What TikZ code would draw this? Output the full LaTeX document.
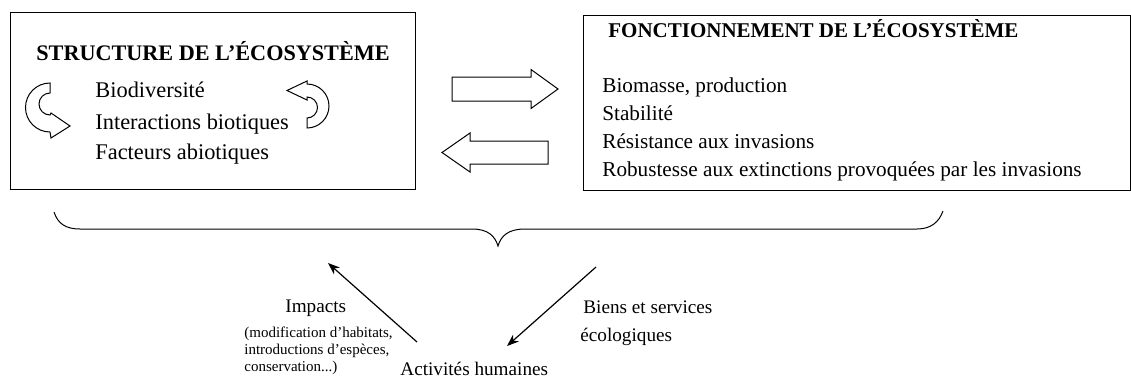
\documentclass[tikz,border=0pt]{standalone}
\usepackage{fontspec}
\setmainfont{Liberation Serif}
\usetikzlibrary{arrows.meta}

\tikzset{
  ecobox/.style={draw, line width=0.6pt, inner sep=0pt, anchor=north west},
  item/.style={anchor=base west, inner sep=0pt},
  blockarrow/.style={draw, line width=0.5pt, line join=miter},
  thinarrow/.style={-{Stealth[length=6pt,width=4.5pt]}, line width=0.6pt},
}

\begin{document}
\begin{tikzpicture}[x=0.5pt, y=0.5pt]
    \useasboundingbox (0,0) rectangle (1131,-381);
    % the two boxes
    \node[ecobox, minimum width=202.75pt, minimum height=88.5pt] (structure) at (9.5,-12) {};
    \node[ecobox, minimum width=273.25pt, minimum height=87.5pt] (function) at (583,-15) {};

    % structure of the ecosystem
    \node[item, font=\fontsize{11.1}{13}\bfseries] (structtitle) at (36,-60) {STRUCTURE DE L’ÉCOSYSTÈME};
    \foreach \y/\txt in {97/Biodiversité, 129/Interactions biotiques, 159/Facteurs abiotiques} {
        \node[item, font=\fontsize{11.2}{13}\selectfont] (s\y) at (95,-\y) {\txt};
    }
    \draw[blockarrow] (50,-83) arc[start angle=90, end angle=270, radius=24.5]
        -- (51,-138) -- (70,-126) -- (51,-113) -- (50,-115)
        arc[start angle=270, end angle=90, radius=11] -- cycle;
    \draw[blockarrow] (307,-128) arc[start angle=270, end angle=450, radius=22]
        -- (307,-81) -- (287,-90.5) -- (307,-100) -- (307,-97)
        arc[start angle=90, end angle=-90, radius=10.5] -- cycle;

    % functioning of the ecosystem
    \node[item, font=\fontsize{10.5}{12}\bfseries] (functitle) at (608,-37) {FONCTIONNEMENT DE L’ÉCOSYSTÈME};
    \foreach \y/\txt in {92/{Biomasse, production}, 120/Stabilité, 148/Résistance aux invasions,
                         176/Robustesse aux extinctions provoquées par les invasions} {
        \node[item, font=\fontsize{10.6}{12}\selectfont] (f\y) at (602,-\y) {\txt};
    }

    % block arrows between the boxes
    \draw[blockarrow] (452,-77) -- (531,-77) -- (531,-69.5) -- (558,-89)
        -- (531,-108.5) -- (531,-101) -- (452,-101) -- cycle;
    \draw[blockarrow] (548,-141) -- (470,-141) -- (470,-133) -- (442,-152.5)
        -- (470,-172) -- (470,-164) -- (548,-164) -- cycle;

    % brace under both boxes
    \draw[line width=0.5pt] (54,-212) .. controls (58,-224) and (66,-229) .. (80,-229)
        -- (472,-229) .. controls (488,-229) and (495,-236) .. (498,-246)
        .. controls (501,-236) and (508,-229) .. (525,-229)
        -- (917,-229) .. controls (931,-229) and (939,-222) .. (943,-211);

    % human activities
    \node[item, font=\fontsize{9.6}{11}\selectfont] (impacts) at (285,-312) {Impacts};
    \foreach \y/\txt in {337/{(modification d’habitats,}, 354/{introductions d’espèces,}, 371/{conservation...)}} {
        \node[item, font=\fontsize{7.5}{9}\selectfont] (i\y) at (244,-\y) {\txt};
    }
    \node[item, font=\fontsize{9.6}{11}\selectfont] (human) at (400,-375) {Activités humaines};
    \node[item, font=\fontsize{9.6}{11}\selectfont] (biens) at (583,-313) {Biens et services};
    \node[item, font=\fontsize{9.6}{11}\selectfont] (ecolo) at (580,-341) {écologiques};

    \coordinate (impstart) at (417,-342);
    \coordinate (imptip) at (328,-263);
    \coordinate (bienstart) at (596,-267);
    \coordinate (bientip) at (507,-346);
    \draw[thinarrow] (impstart) -- (imptip);
    \draw[thinarrow] (bienstart) -- (bientip);
\end{tikzpicture}
\end{document}
